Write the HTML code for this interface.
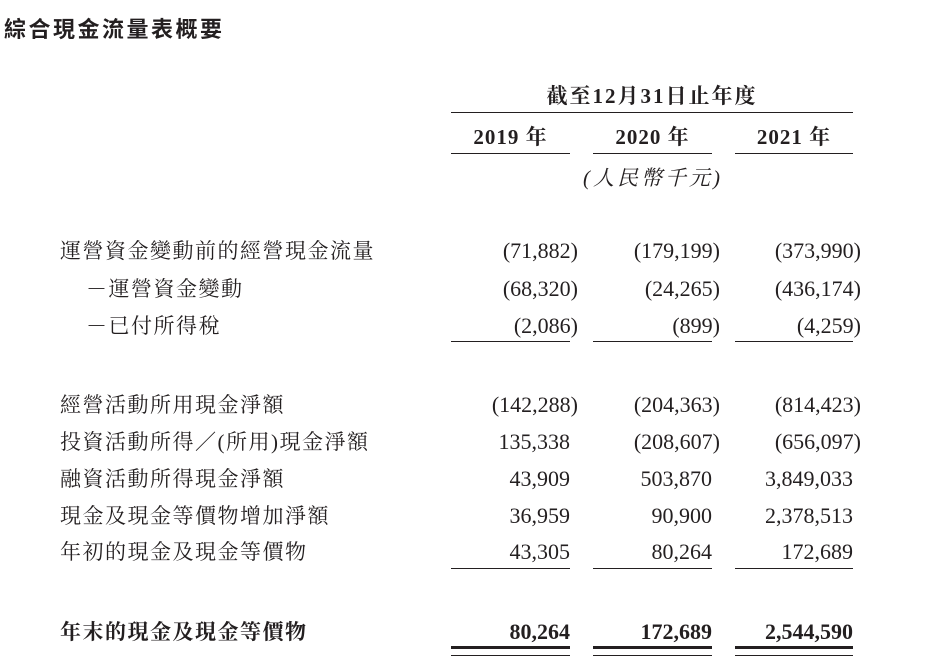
<!DOCTYPE html>
<html><head><meta charset="utf-8"><style>
body{margin:0;width:933px;height:665px;background:#fff;position:relative;overflow:hidden;font-family:"Liberation Serif","Noto Serif CJK SC","Noto Sans CJK TC",serif;color:#231f20}
div{position:absolute;white-space:nowrap}
.t{font-size:21px;line-height:24px;letter-spacing:1.5px}
.l{left:60px}
.n{font-size:22px;line-height:24px;text-align:right}
.n i{font-style:normal;margin-right:-8px}
.c1{right:363px}.c2{right:221px}.c3{right:80px}
.h{height:1px;background:#231f20}
.b{font-weight:bold}
.y{font-size:21px;line-height:24px;font-weight:bold;text-align:center;letter-spacing:1px}
</style></head><body>
<div class="b" style="left:4px;top:12px;font-size:22px;font-family:'Noto Sans CJK TC','Liberation Sans',sans-serif;letter-spacing:2.5px">綜合現金流量表概要</div>
<div class="y" style="left:451px;width:402px;top:84px;letter-spacing:2px">截至12月31日止年度</div>
<div class="h" style="left:451px;width:402px;top:112px"></div>
<div class="y" style="left:451px;width:119px;top:125px">2019 年</div>
<div class="y" style="left:593px;width:119px;top:125px">2020 年</div>
<div class="y" style="left:735px;width:118px;top:125px">2021 年</div>
<div class="h" style="left:451px;width:119px;top:153px"></div>
<div class="h" style="left:593px;width:119px;top:153px"></div>
<div class="h" style="left:735px;width:118px;top:153px"></div>
<div class="t" style="left:583px;top:166px;font-style:italic;letter-spacing:3px">(人民幣千元)</div>

<div class="t l" style="top:239px">運營資金變動前的經營現金流量</div>
<div class="n c1" style="top:239px">(71,882<i>)</i></div><div class="n c2" style="top:239px">(179,199<i>)</i></div><div class="n c3" style="top:239px">(373,990<i>)</i></div>
<div class="t" style="left:86px;top:277px">－運營資金變動</div>
<div class="n c1" style="top:277px">(68,320<i>)</i></div><div class="n c2" style="top:277px">(24,265<i>)</i></div><div class="n c3" style="top:277px">(436,174<i>)</i></div>
<div class="t" style="left:86px;top:314px">－已付所得稅</div>
<div class="n c1" style="top:314px">(2,086<i>)</i></div><div class="n c2" style="top:314px">(899<i>)</i></div><div class="n c3" style="top:314px">(4,259<i>)</i></div>
<div class="h" style="left:451px;width:119px;top:341px"></div>
<div class="h" style="left:593px;width:119px;top:341px"></div>
<div class="h" style="left:735px;width:118px;top:341px"></div>

<div class="t l" style="top:393px">經營活動所用現金淨額</div>
<div class="n c1" style="top:393px">(142,288<i>)</i></div><div class="n c2" style="top:393px">(204,363<i>)</i></div><div class="n c3" style="top:393px">(814,423<i>)</i></div>
<div class="t l" style="top:430px">投資活動所得／(所用)現金淨額</div>
<div class="n c1" style="top:430px">135,338</div><div class="n c2" style="top:430px">(208,607<i>)</i></div><div class="n c3" style="top:430px">(656,097<i>)</i></div>
<div class="t l" style="top:467px">融資活動所得現金淨額</div>
<div class="n c1" style="top:467px">43,909</div><div class="n c2" style="top:467px">503,870</div><div class="n c3" style="top:467px">3,849,033</div>
<div class="t l" style="top:504px">現金及現金等價物增加淨額</div>
<div class="n c1" style="top:504px">36,959</div><div class="n c2" style="top:504px">90,900</div><div class="n c3" style="top:504px">2,378,513</div>
<div class="t l" style="top:540px">年初的現金及現金等價物</div>
<div class="n c1" style="top:540px">43,305</div><div class="n c2" style="top:540px">80,264</div><div class="n c3" style="top:540px">172,689</div>
<div class="h" style="left:451px;width:119px;top:568px"></div>
<div class="h" style="left:593px;width:119px;top:568px"></div>
<div class="h" style="left:735px;width:118px;top:568px"></div>

<div class="t l b" style="top:620px">年末的現金及現金等價物</div>
<div class="n c1 b" style="top:620px">80,264</div><div class="n c2 b" style="top:620px">172,689</div><div class="n c3 b" style="top:620px">2,544,590</div>
<div style="left:451px;width:119px;top:646px;height:3px;background:#231f20"></div>
<div style="left:593px;width:119px;top:646px;height:3px;background:#231f20"></div>
<div style="left:735px;width:118px;top:646px;height:3px;background:#231f20"></div>
<div class="h" style="left:451px;width:119px;top:655px"></div>
<div class="h" style="left:593px;width:119px;top:655px"></div>
<div class="h" style="left:735px;width:118px;top:655px"></div>
</body></html>
